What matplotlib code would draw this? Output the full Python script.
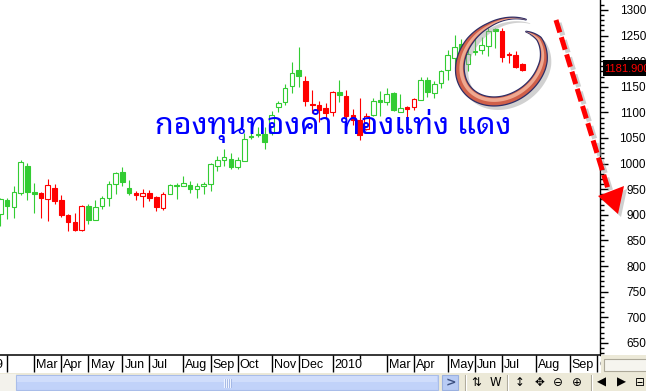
import numpy as np
import matplotlib
matplotlib.use("Agg")
import matplotlib.pyplot as plt
from matplotlib.patches import Rectangle, Polygon
from matplotlib import font_manager
from matplotlib.ft2font import FT2Font

W, H = 646, 391

# weekly gold candles (index = week, first visible week ~ late Jan 2009)
opens = [901, 929, 915, 942, 995, 944, 943, 930, 952, 929,
         899, 886, 870, 917, 889, 918, 932, 960, 983, 952,
         943, 936, 943, 935, 914, 940, 958, 956, 958, 950,
         956, 960, 996, 1008, 1009, 994, 1005, 1054, 1058, 1058,
         1059, 1110, 1120, 1152, 1183, 1161, 1117, 1114, 1108, 1101,
         1140, 1132, 1095, 1085, 1068, 1095, 1124, 1120, 1137, 1101,
         1110, 1111, 1124, 1163, 1137, 1158, 1182, 1207, 1233, 1195,
         1220, 1222, 1230, 1263, 1258, 1215, 1213, 1194]
highs = [932, 932, 956, 1008, 1001, 962, 945, 970, 960, 938,
         901, 904, 919, 921, 929, 937, 966, 984, 993, 968,
         947, 950, 948, 936, 944, 960, 963, 976, 966, 962,
         965, 1001, 1015, 1028, 1021, 1012, 1059, 1073, 1071, 1071,
         1103, 1123, 1155, 1198, 1227, 1172, 1144, 1122, 1118, 1142,
         1163, 1144, 1107, 1128, 1099, 1128, 1142, 1147, 1140, 1135,
         1113, 1129, 1169, 1169, 1162, 1183, 1221, 1251, 1243, 1228,
         1243, 1248, 1264, 1265, 1264, 1217, 1220, 1196]
lows = [878, 892, 894, 939, 929, 904, 894, 887, 921, 896,
        868, 868, 868, 883, 889, 912, 917, 941, 956, 939,
        929, 916, 926, 908, 909, 940, 930, 956, 942, 933,
        940, 947, 986, 995, 989, 989, 1005, 1048, 1052, 1029,
        1056, 1101, 1114, 1138, 1150, 1113, 1099, 1082, 1090, 1092,
        1120, 1083, 1075, 1046, 1066, 1092, 1092, 1114, 1103, 1101,
        1088, 1105, 1124, 1131, 1128, 1148, 1163, 1187, 1205, 1180,
        1212, 1215, 1210, 1226, 1198, 1197, 1187, 1180]
closes = [930, 918, 944, 1004, 945, 941, 933, 958, 927, 900,
          886, 870, 917, 890, 916, 932, 960, 981, 965, 943,
          939, 943, 933, 916, 941, 958, 956, 962, 951, 956,
          960, 999, 1008, 1012, 994, 1007, 1049, 1051, 1055, 1043,
          1095, 1118, 1147, 1176, 1172, 1123, 1114, 1105, 1098, 1139,
          1133, 1092, 1086, 1056, 1092, 1123, 1121, 1135, 1105, 1108,
          1107, 1127, 1163, 1139, 1155, 1181, 1212, 1228, 1219, 1214,
          1217, 1232, 1258, 1258, 1209, 1212, 1189, 1181.9]
colours = ("ggggggrrrrrrrgggggggrrrrrgggggggggggggggggggg"
           "rrrrrgrrrrgggggrrggggggggggggrrrr")

last_price = "1181.900"
price_ticks = [650, 700, 750, 800, 850, 900, 950, 1000, 1050, 1100, 1150, 1200, 1250, 1300]

month_idx = [-4, 1, 5, 9, 13, 18, 22, 27, 31, 35, 40, 44, 49, 57, 61, 66, 70, 74, 79, 84, 88]
month_lbl = ["2009", "", "Mar", "Apr", "May", "Jun", "Jul", "Aug", "Sep", "Oct", "Nov",
             "Dec", "2010", "Mar", "Apr", "May", "Jun", "Jul", "Aug", "Sep", "Oct"]
small_month_idx = [53]

title_th = "กองทุนทองคำ ทองแท่ง แดง"


def thai_family():
    prefer = ["Noto Sans Thai Looped", "Loma", "Tahoma", "Garuda", "Noto Sans Thai",
              "Norasi", "Kinnari", "Sarabun", "Waree", "Umpush", "Laksaman"]
    found = {}
    for f in font_manager.fontManager.ttflist:
        try:
            if 0x0E01 in FT2Font(f.fname).get_charmap():
                found.setdefault(f.name, f.fname)
        except Exception:
            pass
    for p in prefer:
        if p in found:
            return p
    return next(iter(found), "DejaVu Sans")


GREEN = "#33cc33"
RED = "#ff0000"
PX = 0.72  # points per pixel at dpi 100

fig = plt.figure(figsize=(W / 100, H / 100), dpi=100)
fig.patch.set_facecolor("white")

# price panel
ax = fig.add_axes([0, 36 / H, 600 / W, 355 / H])
ax.set_xlim(-0.05, 88.45)
ax.set_ylim(626.2, 1319.5)
for s in ["top", "left", "bottom"]:
    ax.spines[s].set_visible(False)
ax.spines["right"].set_linewidth(1.0)
ax.set_xticks([])
ax.yaxis.tick_right()
ax.set_yticks(price_ticks)
ax.set_yticks(np.arange(630, 1320, 10), minor=True)
ax.tick_params(axis="y", which="major", length=8 * PX, width=1, direction="out",
               pad=38 * PX, labelsize=8.5)
ax.tick_params(axis="y", which="minor", length=4 * PX, width=1, direction="out")
plt.setp(ax.get_yticklabels(), ha="right", family="Liberation Sans")

bw = 0.68
for i in range(len(opens)):
    col = GREEN if colours[i] == "g" else RED
    ax.vlines(i, lows[i], highs[i], color=col, lw=0.8, zorder=2)
    lo, hi = sorted((opens[i], closes[i]))
    hollow = closes[i] >= opens[i]
    ax.add_patch(Rectangle((i - bw / 2, lo), bw, max(hi - lo, 1.5),
                           facecolor="white" if hollow else col, edgecolor=col,
                           lw=0.8, zorder=3))

# date strip
dx = fig.add_axes([0, 18 / H, 600 / W, 18 / H])
dx.set_xlim(-0.05, 88.45)
dx.set_ylim(0, 1)
dx.set_xticks([])
dx.set_yticks([])
for s in ["left", "right", "bottom"]:
    dx.spines[s].set_visible(False)
dx.spines["top"].set_linewidth(1.1)
dx.vlines(month_idx, 0.05, 1, color="black", lw=1)
dx.vlines(small_month_idx, 0.8, 1, color="black", lw=1)
for m, lab in zip(month_idx, month_lbl):
    dx.text(m + 0.3, 0.45, lab, ha="left", va="center", fontsize=9,
            family="Liberation Sans", color="black")

# overlay in pixel coordinates for the drawn-on annotations and toolbar
ov = fig.add_axes([0, 0, 1, 1], zorder=10)
ov.set_xlim(0, W)
ov.set_ylim(H, 0)
ov.axis("off")
ov.patch.set_alpha(0)

# blue thai caption
thai = thai_family()
txt = ov.text(155, 134, title_th, color="#0000ff", fontsize=20, fontweight="bold",
              family=[thai, "DejaVu Sans"], ha="left", va="baseline", zorder=5)
fig.canvas.draw()
bb = txt.get_window_extent()
txt.set_fontsize(20 * 357 / bb.width)

# hand drawn ring
cx, cy, rx, ry = 502.5, 61.0, 41.0, 40.0
th = np.linspace(70, 420, 400)
fac = np.interp(th, [70, 120, 360, 395, 420], [1.1, 1.03, 1.0, 0.96, 0.85])
thick = np.interp(th, [70, 100, 150, 200, 300, 350, 395, 420], [0.6, 2.5, 7, 9, 9, 8, 5, 0.6])
t = np.radians(th)
px = rx * fac * np.cos(t)
py = -ry * fac * np.sin(t)
px = px - 0.2 * py
px = px + cx
py = py + cy
tx, ty = np.gradient(px), np.gradient(py)
nrm = np.hypot(tx, ty)
nx, ny = -ty / nrm, tx / nrm
sgn = np.sign((cx - px) * nx + (cy - py) * ny)
nx, ny = nx * sgn, ny * sgn  # normal pointing to centre


def band(off, w):
    a = np.column_stack([px + nx * (off + w / 2), py + ny * (off + w / 2)])
    b = np.column_stack([px + nx * (off - w / 2), py + ny * (off - w / 2)])
    return np.vstack([a, b[::-1]])


ov.add_patch(Polygon(band(0, thick) + [4, 4], closed=True, facecolor="#9a9a9a",
                     alpha=0.45, lw=0, zorder=6))
ov.add_patch(Polygon(band(0, thick), closed=True, facecolor="#d0604a",
                     edgecolor="#2e2e66", lw=0.9, zorder=7))
ov.add_patch(Polygon(band(thick * 0.15, thick * 0.4), closed=True, facecolor="#f2b29a",
                     lw=0, alpha=0.9, zorder=8))

# red dashed arrow
ax0, ay0, ax1, ay1 = 556, 20, 609, 192
ov.plot([ax0 + 3, ax1 + 3], [ay0 + 3, ay1 + 3], color="#a0a0a0", alpha=0.5,
        lw=5 * PX, linestyle=(0, (2.6, 1.0)), solid_capstyle="butt", zorder=6)
ov.plot([ax0, ax1], [ay0, ay1], color=RED, lw=5 * PX, linestyle=(0, (2.6, 1.0)),
        dash_capstyle="butt", zorder=7)
head = np.array([[598, 196], [624, 186], [618, 214]])
ov.add_patch(Polygon(head + [3, 3], closed=True, facecolor="#a0a0a0", alpha=0.5, lw=0, zorder=6))
ov.add_patch(Polygon(head, closed=True, facecolor=RED, lw=0, zorder=7))

# last price tag
ov.add_patch(Rectangle((603, 60), 43, 16, facecolor="black", lw=0, zorder=8))
ov.text(604.5, 68.5, last_price, color=RED, fontsize=8, family="Liberation Sans",
        ha="left", va="center", zorder=9, clip_on=True)

# corner box next to the dates
ov.add_patch(Rectangle((600.5, 355), 46, 18, facecolor="#ece9d8", lw=0, zorder=3))
ov.add_patch(Rectangle((604, 358.5), 44, 12, facecolor="#f6f5ef", edgecolor="#aca899",
                       lw=0.8, zorder=4))

# bottom toolbar
ov.add_patch(Rectangle((0, 373), W, 18, facecolor="#ece9d8", lw=0, zorder=3))
ov.add_patch(Rectangle((0, 374), 16, 17, facecolor="#f3f2ec", lw=0, zorder=4))
ov.add_patch(Rectangle((16, 375), 422, 15, facecolor="#c1d2f9", edgecolor="#a9bde9",
                       lw=0.8, zorder=4))
ov.add_patch(Rectangle((17, 376), 420, 6, facecolor="#d0ddfb", lw=0, zorder=4))
for gx in [224, 226, 228, 230]:
    ov.plot([gx, gx], [379, 387], color="#eef3ff", lw=0.8, zorder=5)
    ov.plot([gx + 1, gx + 1], [379, 387], color="#9fb3e3", lw=0.6, zorder=5)
ov.add_patch(Rectangle((442, 375), 16, 15, facecolor="#b8cbf4", edgecolor="#9ab0e0",
                       lw=0.8, zorder=4))
ov.text(451, 382.5, ">", color="#3c5080", fontsize=9, fontweight="bold",
        ha="center", va="center", zorder=5)
for sx in [465, 507, 591]:
    ov.plot([sx, sx], [375, 390], color="#aca899", lw=0.8, zorder=5)
    ov.plot([sx + 1, sx + 1], [375, 390], color="white", lw=0.8, zorder=5)
icons = [(476, "⇅"), (495, "W"), (520, "↕"), (539, "✥"), (558, "⊖"),
         (577, "⊕"), (601, "◀"), (621, "▶"), (640, "⊟")]
for ix, g in icons:
    ov.text(ix, 382.5, g, color="black", fontsize=8.5, family="DejaVu Sans",
            ha="center", va="center", zorder=5)

fig.savefig("out.png", dpi=100, facecolor="white")
